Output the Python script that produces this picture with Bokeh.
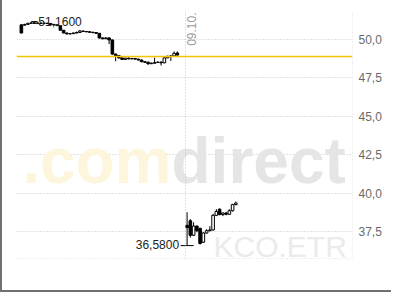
import math
from bokeh.plotting import figure
from bokeh.models import Range1d, FixedTicker, CustomJSTickFormatter, Span, Label
from bokeh.embed import file_html
from bokeh.resources import INLINE

# ---------------- data ----------------
# Day 1 (08.10.) 10-minute candles
D1_OPEN  = [50.95, 50.93, 50.98, 51.05, 51.08, 51.05, 51.07, 51.05, 51.06, 51.04,
            50.98, 50.95, 50.90, 50.60, 50.42, 50.36, 50.38, 50.42, 50.45, 50.55,
            50.52, 50.50, 50.47, 50.45, 50.40, 50.10, 50.05, 50.10, 49.97, 49.05,
            48.95, 48.80, 48.70, 48.78, 48.74, 48.76, 48.72, 48.66, 48.55, 48.52,
            48.42, 48.45, 48.50, 48.52, 48.48, 48.80, 48.90, 48.93, 49.12]
D1_HIGH  = [50.98, 51.02, 51.08, 51.12, 51.16, 51.10, 51.10, 51.09, 51.08, 51.06,
            51.00, 50.98, 50.92, 50.62, 50.45, 50.40, 50.45, 50.52, 50.62, 50.58,
            50.55, 50.55, 50.50, 50.48, 50.42, 50.12, 50.13, 50.15, 49.98, 49.08,
            48.97, 48.83, 48.82, 48.82, 48.80, 48.79, 48.75, 48.70, 48.58, 48.55,
            48.50, 48.82, 48.58, 48.58, 48.85, 48.95, 48.97, 49.22, 49.22]
D1_LOW   = [50.40, 50.90, 50.95, 51.02, 51.02, 51.00, 51.02, 51.01, 51.00, 50.96,
            50.93, 50.88, 50.58, 50.40, 50.33, 50.33, 50.35, 50.40, 50.43, 50.48,
            50.46, 50.44, 50.40, 50.36, 50.05, 50.00, 50.02, 49.70, 49.00, 48.58,
            48.75, 48.66, 48.66, 48.70, 48.70, 48.68, 48.62, 48.52, 48.48, 48.35,
            48.40, 48.43, 48.46, 48.30, 48.45, 48.78, 48.60, 48.90, 48.95]
D1_CLOSE = [50.42, 50.98, 51.05, 51.08, 51.05, 51.07, 51.05, 51.06, 51.04, 50.98,
            50.95, 50.90, 50.60, 50.42, 50.36, 50.38, 50.42, 50.45, 50.55, 50.52,
            50.50, 50.47, 50.45, 50.40, 50.10, 50.05, 50.10, 49.97, 49.05, 48.95,
            48.80, 48.70, 48.78, 48.74, 48.76, 48.72, 48.66, 48.55, 48.52, 48.42,
            48.45, 48.50, 48.52, 48.48, 48.80, 48.90, 48.93, 49.10, 48.98]

# Day 2 (09.10.) 10-minute candles
D2_OPEN  = [37.90, 38.20, 37.25, 37.85, 37.70, 36.80, 37.40, 37.55, 37.60, 38.55,
            38.95, 38.60, 38.70, 38.62, 38.85, 39.25]
D2_HIGH  = [38.75, 38.30, 38.10, 37.90, 37.75, 37.45, 37.65, 37.85, 38.65, 38.95,
            39.00, 38.75, 38.78, 38.95, 39.30, 39.45]
D2_LOW   = [36.58, 37.10, 37.20, 37.45, 36.65, 36.75, 37.35, 37.50, 37.55, 38.50,
            38.55, 38.50, 38.55, 38.60, 38.80, 39.20]
D2_CLOSE = [37.75, 37.25, 37.85, 37.55, 36.72, 37.40, 37.55, 37.60, 38.55, 38.80,
            38.60, 38.70, 38.62, 38.85, 39.25, 39.35]

DAY2_START = 51          # bar slot where day 2 begins
DAY2_LABEL = "09.10."
PREV_CLOSE = 48.89       # yellow reference line
Y_TICKS = [37.5, 40.0, 42.5, 45.0, 47.5, 50.0]
INTERVAL_TEXT = "Intervall: 10 Minuten"
WATERMARK_A = ".com"
WATERMARK_B = "direct"
SYMBOL = "KCO.ETR"

# ---------------- geometry ----------------
X0, X1 = -1.5, 101.9
Y0, Y1 = 35.74, 51.82
FRAME_LEFT_PX, FRAME_TOP_PX, FRAME_W, FRAME_H = 16, 11, 336, 247

def dx(px):
    return X0 + (px - FRAME_LEFT_PX) * (X1 - X0) / FRAME_W

def dy(py):
    return Y1 - (py - FRAME_TOP_PX) * (Y1 - Y0) / FRAME_H

FONT = "Liberation Sans"

p = figure(width=391, height=292, x_range=Range1d(X0, X1), y_range=Range1d(Y0, Y1),
           x_axis_location=None, y_axis_location="right",
           min_border_left=14, min_border_right=41, min_border_top=11, min_border_bottom=34,
           toolbar_location=None, output_backend="svg",
           styles={"border-left": "2px solid #707070", "border-bottom": "2px solid #707070"})
p.outline_line_color = None
p.background_fill_color = "white"
p.border_fill_color = "white"

ax = p.yaxis[0]
ax.ticker = FixedTicker(ticks=Y_TICKS)
ax.formatter = CustomJSTickFormatter(code="return tick.toFixed(1).replace('.', ',');")
ax.axis_line_color = None
ax.major_tick_line_color = None
ax.minor_tick_line_color = None
ax.major_tick_out = 0
ax.major_tick_in = 0
ax.major_label_standoff = 6
ax.major_label_text_font = FONT
ax.major_label_text_font_size = "12px"
ax.major_label_text_color = "#6a6a6a"

p.xgrid.visible = False
p.ygrid.ticker = FixedTicker(ticks=Y_TICKS)
p.ygrid.grid_line_color = "#c4c4c4"
p.ygrid.grid_line_dash = "1 2"

# watermarks
p.add_layout(Label(x=dx(171), y=dy(160), text=WATERMARK_A, text_align="right", text_baseline="alphabetic",
                   text_font=FONT, text_font_style="bold", text_font_size="64px",
                   text_color="#fdf6dc", level="underlay"))
p.add_layout(Label(x=dx(171), y=dy(160), text=WATERMARK_B, text_align="left", text_baseline="alphabetic",
                   text_font=FONT, text_font_style="bold", text_font_size="64px",
                   text_color="#e5e5e5", level="underlay"))
p.add_layout(Label(x=dx(213), y=dy(246), text=SYMBOL, text_align="left", text_baseline="alphabetic",
                   text_font=FONT, text_font_size="30px",
                   text_color="#ebebeb", level="underlay"))

# frame lines and day separator
dot = dict(line_color="#c4c4c4", line_dash="1 2", line_width=1)
p.add_layout(Span(location=X1, dimension="height", **dot))
p.add_layout(Span(location=Y0, dimension="width", **dot))
p.add_layout(Span(location=DAY2_START - 0.5, dimension="height", **dot))

p.add_layout(Span(location=PREV_CLOSE, dimension="width", line_color="#f5c400", line_width=1.5))

# candles
def draw(idx, o, h, l, c):
    p.segment(x0=idx, x1=idx, y0=l, y1=h, line_color="black", line_width=1)
    up = [i for i in range(len(idx)) if c[i] >= o[i]]
    dn = [i for i in range(len(idx)) if c[i] < o[i]]
    p.vbar(x=[idx[i] for i in up], width=0.8, bottom=[o[i] for i in up], top=[c[i] for i in up],
           fill_color="white", line_color="black", line_width=1)
    p.vbar(x=[idx[i] for i in dn], width=0.8, bottom=[c[i] for i in dn], top=[o[i] for i in dn],
           fill_color="black", line_color="black", line_width=1)

idx1 = list(range(len(D1_OPEN)))
idx2 = [DAY2_START + j for j in range(len(D2_OPEN))]
draw(idx1, D1_OPEN, D1_HIGH, D1_LOW, D1_CLOSE)
draw(idx2, D2_OPEN, D2_HIGH, D2_LOW, D2_CLOSE)

all_idx = idx1 + idx2
all_high = D1_HIGH + D2_HIGH
all_low = D1_LOW + D2_LOW
hi = max(all_high); hi_i = all_idx[all_high.index(hi)]
lo = min(all_low); lo_i = all_idx[all_low.index(lo)]

def fmt(v, n):
    return f"{v:.{n}f}".replace(".", ",")

p.segment(x0=[hi_i - 1.0, lo_i - 2.0], x1=[hi_i + 1.0, lo_i + 2.0], y0=[hi, lo], y1=[hi, lo],
          line_color="black", line_width=1)
p.add_layout(Label(x=hi_i, y=hi, x_offset=4, text=fmt(hi, 4), text_align="left", text_baseline="middle",
                   text_font=FONT, text_font_size="12px", text_color="#222222"))
p.add_layout(Label(x=lo_i, y=lo, x_offset=-8, y_offset=1, text=fmt(lo, 4), text_align="right", text_baseline="middle",
                   text_font=FONT, text_font_size="12px", text_color="#222222"))

# date label (rotated)
p.add_layout(Label(x=DAY2_START - 0.5, y=dy(12), x_offset=2, text=DAY2_LABEL, angle=math.pi / 2,
                   text_align="right", text_baseline="top",
                   text_font=FONT, text_font_size="12px", text_color="#9a9a9a"))

# footer
hl_pct = (hi - lo) / lo * 100
p.add_layout(Label(x=dx(12), y=dy(274), text=fmt(hl_pct, 1) + " %HL", text_align="left", text_baseline="middle",
                   text_font=FONT, text_font_size="12px", text_color="#b0b0b0"))
p.add_layout(Label(x=dx(90), y=dy(274), text=INTERVAL_TEXT, text_align="left", text_baseline="middle",
                   text_font=FONT, text_font_size="12px", text_color="#a0a0a0"))

open("out.html", "w").write(file_html(p, INLINE))
